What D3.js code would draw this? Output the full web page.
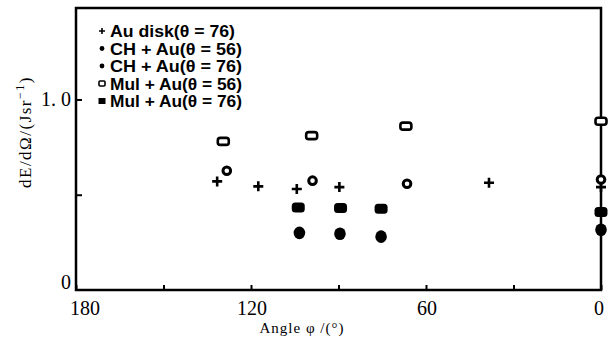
<!DOCTYPE html>
<html>
<head>
<meta charset="utf-8">
<script src="https://cdn.jsdelivr.net/npm/d3@7"></script>
<style>
  body { margin: 0; background: #fff; }
  svg { display: block; }
</style>
</head>
<body>
<svg id="chart" width="608" height="345"></svg>
<script>
// angle (deg) / value pairs
const auDiskAngles = [131.6, 117.5, 104.3, 89.7, 38.4, 0];
const auDiskValues = [0.57, 0.544, 0.53, 0.54, 0.563, 0.54];

const ch56Angles = [128.3, 98.9, 66.5, 0];
const ch56Values = [0.626, 0.574, 0.558, 0.58];

const ch76Angles = [103.4, 89.5, 75.4, 0];
const ch76Values = [0.30, 0.295, 0.28, 0.316];

const mul56Angles = [129.5, 99.2, 66.9, 0];
const mul56Values = [0.78, 0.81, 0.86, 0.886];

const mul76Angles = [103.8, 89.3, 75.4, 0];
const mul76Values = [0.433, 0.43, 0.426, 0.41];

const legendLabels = ['Au disk(θ = 76)', 'CH + Au(θ = 56)', 'CH + Au(θ = 76)', 'Mul + Au(θ = 56)', 'Mul + Au(θ = 76)'];
const xTicks = [180, 150, 120, 90, 60, 30, 0];
const xTickLabels = [180, 120, 60, 0];
const yTicks = [0.5, 1.0];
const yTickLabels = [0, 1.0];

const margin = { left: 76, right: 601, top: 8, bottom: 290 };
const svg = d3.select('#chart');

const x = d3.scaleLinear().domain([180, 0]).range([margin.left, margin.right]);
const y = d3.scaleLinear().domain([0, 1.48]).range([margin.bottom, margin.top]);

const serif = '"Liberation Serif", "DejaVu Serif", serif';
const sans = '"Liberation Sans", Arial, sans-serif';

// x ticks (inside)
const xAxis = d3.axisBottom(x).tickValues(xTicks).tickSize(-5).tickFormat('');
svg.append('g')
  .attr('transform', `translate(0,${margin.bottom})`)
  .call(xAxis)
  .call(g => g.select('.domain').remove())
  .call(g => g.selectAll('line').attr('stroke', '#000').attr('stroke-width', 2));

svg.append('g')
  .selectAll('text')
  .data(xTickLabels)
  .join('text')
  .attr('x', d => x(d) + (d === 180 ? 9 : d === 0 ? -2 : 1))
  .attr('y', 315)
  .attr('text-anchor', 'middle')
  .attr('font-family', serif)
  .attr('font-size', 20)
  .text(d => d);

// y ticks (inside)
const yAxis = d3.axisLeft(y).tickValues(yTicks).tickSize(-6).tickFormat('');
svg.append('g')
  .attr('transform', `translate(${margin.left},0)`)
  .call(yAxis)
  .call(g => g.select('.domain').remove())
  .call(g => g.selectAll('line').attr('stroke', '#000').attr('stroke-width', 2));

svg.append('g')
  .selectAll('text')
  .data(yTickLabels)
  .join('text')
  .attr('x', 71)
  .attr('y', d => d === 0 ? y(d) - 1 : y(d) + 7)
  .attr('text-anchor', 'end')
  .attr('font-family', serif)
  .attr('font-size', 20)
  .text(d => d === 0 ? '0' : '1. 0');

// frame
svg.append('rect')
  .attr('x', margin.left)
  .attr('y', margin.top)
  .attr('width', margin.right - margin.left)
  .attr('height', margin.bottom - margin.top)
  .attr('fill', 'none')
  .attr('stroke', '#000')
  .attr('stroke-width', 2.5);

// axis titles
svg.append('text')
  .attr('transform', 'translate(31,132) rotate(-90)')
  .attr('text-anchor', 'middle')
  .attr('font-family', serif)
  .attr('font-size', 17)
  .attr('letter-spacing', 1.5)
  .html('dE/dΩ/(Jsr<tspan dy="-7" font-size="12">−1</tspan><tspan dy="7">)</tspan>');

svg.append('text')
  .attr('x', 302)
  .attr('y', 333)
  .attr('text-anchor', 'middle')
  .attr('font-family', serif)
  .attr('font-size', 15)
  .attr('letter-spacing', 1)
  .text('Angle φ /(°)');

const plot = svg.append('g');

const pairs = (a, v) => a.map((d, i) => ({ angle: d, value: v[i] }));

// Au disk: plus
plot.append('g').selectAll('path')
  .data(pairs(auDiskAngles, auDiskValues))
  .join('path')
  .attr('d', d => `M${x(d.angle) - 5},${y(d.value)}h10M${x(d.angle)},${y(d.value) - 5}v10`)
  .attr('stroke', '#000')
  .attr('stroke-width', 2.6);

// Mul+Au(56): open rounded rect
plot.append('g').selectAll('rect')
  .data(pairs(mul56Angles, mul56Values))
  .join('rect')
  .attr('x', d => x(d.angle) - 5.5)
  .attr('y', d => y(d.value) - 3.5)
  .attr('width', 11)
  .attr('height', 7)
  .attr('rx', 2.5)
  .attr('fill', '#fff')
  .attr('stroke', '#000')
  .attr('stroke-width', 2.6);

// CH+Au(56): open circle
plot.append('g').selectAll('circle')
  .data(pairs(ch56Angles, ch56Values))
  .join('circle')
  .attr('cx', d => x(d.angle))
  .attr('cy', d => y(d.value))
  .attr('r', 3.8)
  .attr('fill', '#fff')
  .attr('stroke', '#000')
  .attr('stroke-width', 3);

// Mul+Au(76): filled rounded rect
plot.append('g').selectAll('rect')
  .data(pairs(mul76Angles, mul76Values))
  .join('rect')
  .attr('x', d => x(d.angle) - 6.5)
  .attr('y', d => y(d.value) - 5)
  .attr('width', 13)
  .attr('height', 10)
  .attr('rx', 3.5)
  .attr('fill', '#000');

// CH+Au(76): filled circle
plot.append('g').selectAll('ellipse')
  .data(pairs(ch76Angles, ch76Values))
  .join('ellipse')
  .attr('cx', d => x(d.angle))
  .attr('cy', d => y(d.value))
  .attr('rx', 5.8)
  .attr('ry', 6.3)
  .attr('fill', '#000');

// legend
const legendY = d3.scaleLinear().domain([0, 4]).range([31, 101]);
const legend = svg.append('g');
legend.selectAll('text')
  .data(legendLabels)
  .join('text')
  .attr('x', 110)
  .attr('y', (d, i) => legendY(i) + 6)
  .attr('font-family', sans)
  .attr('font-weight', 'bold')
  .attr('font-size', 16)
  .attr('textLength', (d, i) => i === 0 ? 125 : 132)
  .attr('lengthAdjust', 'spacingAndGlyphs')
  .text(d => d);

const lx = 102;
legend.append('path')
  .attr('d', `M${lx - 3},${legendY(0)}h6M${lx},${legendY(0) - 3}v6`)
  .attr('stroke', '#000').attr('stroke-width', 1.6);
legend.append('circle').attr('cx', lx).attr('cy', legendY(1)).attr('r', 2.4).attr('fill', '#000');
legend.append('circle').attr('cx', lx).attr('cy', legendY(2)).attr('r', 2.4).attr('fill', '#000');
legend.append('rect').attr('x', lx - 3).attr('y', legendY(3) - 2.5).attr('width', 6).attr('height', 5)
  .attr('rx', 1).attr('fill', '#fff').attr('stroke', '#000').attr('stroke-width', 1.6);
legend.append('rect').attr('x', lx - 3.5).attr('y', legendY(4) - 3).attr('width', 7).attr('height', 6)
  .attr('fill', '#000');
</script>
</body>
</html>
